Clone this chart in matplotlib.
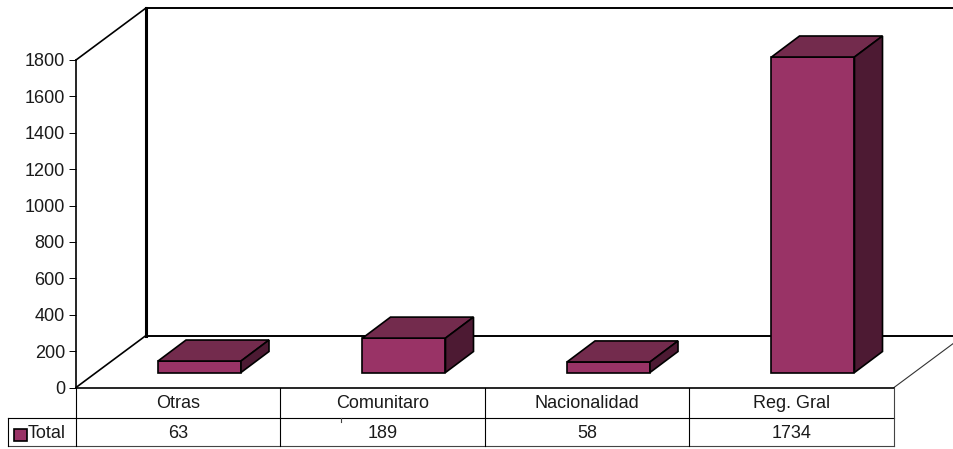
import matplotlib
matplotlib.use("Agg")
import matplotlib.pyplot as plt
from matplotlib.patches import Polygon

plt.rcParams["font.family"] = ["Liberation Sans", "DejaVu Sans"]

categories = ["Otras", "Comunitaro", "Nacionalidad", "Reg. Gral"]
values = [63, 189, 58, 1734]
series_name = "Total"
y_ticks = [0, 200, 400, 600, 800, 1000, 1200, 1400, 1600, 1800]

W, H = 954, 449
X0, Y0, Y1800 = 76, 387.5, 60
X_END = 894
WALL_DX, WALL_DY = 70, 52
BAR_DX, BAR_DY = 28, 21
BAR_LIFT = 15
BAR_W = 83
ROW1, ROW2 = 418, 446
LEGEND_LEFT = 8
FONT_SIZE = 13
FRONT, TOP, SIDE = "#993366", "#732b4d", "#4d1a33"

PER_PX = 1800 / (Y0 - Y1800)


def px_y(pixel):
    # pixel row to value units
    return (Y0 - pixel) * PER_PX


def add_bar(ax, left, value):
    right = left + BAR_W
    base = px_y(Y0 - BAR_LIFT)
    top = base + value
    dx, dy = BAR_DX, BAR_DY * PER_PX
    faces = [
        ([(left, base), (right, base), (right, top), (left, top)], FRONT),
        ([(left, top), (right, top), (right + dx, top + dy), (left + dx, top + dy)], TOP),
        ([(right, base), (right + dx, base + dy), (right + dx, top + dy), (right, top)], SIDE),
    ]
    for pts, color in faces:
        ax.add_patch(Polygon(pts, closed=True, facecolor=color, edgecolor="black",
                             linewidth=1.2, joinstyle="miter", zorder=3))


fig = plt.figure(figsize=(W / 100, H / 100), dpi=100)

ax = fig.add_axes([0, 0, 1, 1])
ax.set_xlim(0, W)
ax.set_ylim(px_y(H), px_y(0))
ax.axis("off")

# walls and floor
back_x = X0 + WALL_DX
floor_back = px_y(Y0 - WALL_DY)
wall_top = px_y(Y1800 - WALL_DY)
ax.plot([X0, back_x], [px_y(Y1800), wall_top], color="black", lw=1.2)
ax.plot([X0, back_x], [0, floor_back], color="black", lw=1.2)
ax.plot([back_x, back_x], [floor_back, wall_top], color="black", lw=2.2)
ax.plot([back_x, W], [wall_top, wall_top], color="black", lw=1.4)
ax.plot([back_x, W], [floor_back, floor_back], color="black", lw=1.4)
ax.plot([X_END, X_END + WALL_DX], [0, floor_back], color="#333333", lw=0.8)

cell_w = (X_END - X0) / len(categories)
for i, val in enumerate(values):
    add_bar(ax, X0 + 82 + i * cell_w, val)

# data table
ax.plot([X0, X_END], [0, 0], color="black", lw=1.2)
ax.plot([LEGEND_LEFT, X_END], [px_y(ROW1), px_y(ROW1)], color="black", lw=0.8)
ax.plot([LEGEND_LEFT, X_END], [px_y(ROW2), px_y(ROW2)], color="#444444", lw=0.8)
ax.plot([LEGEND_LEFT, LEGEND_LEFT], [px_y(ROW1), px_y(ROW2)], color="black", lw=0.8)
for i in range(len(categories) + 1):
    ax.plot([X0 + i * cell_w] * 2, [0, px_y(ROW2)],
            color="#444444" if i == len(categories) else "black", lw=0.8)
for i, (cat, val) in enumerate(zip(categories, values)):
    cx = X0 + (i + 0.5) * cell_w
    ax.text(cx, px_y(403.5), cat, ha="center", va="center", fontsize=FONT_SIZE, color="#1a1a1a")
    ax.text(cx, px_y(433), str(val), ha="center", va="center", fontsize=FONT_SIZE, color="#1a1a1a")
ax.plot([341, 341], [px_y(418), px_y(422)], color="#444444", lw=0.8)

# legend cell
ax.add_patch(Polygon([(14, px_y(429)), (27, px_y(429)), (27, px_y(441)), (14, px_y(441))],
                     closed=True, facecolor=FRONT, edgecolor="black", linewidth=1.2))
ax.text(28, px_y(433.5), series_name, ha="left", va="center", fontsize=FONT_SIZE, color="#1a1a1a")

# value axis
ax_y = fig.add_axes([X0 / W, (H - Y0) / H, 0.001, (Y0 - Y1800) / H])
ax_y.patch.set_alpha(0)
ax_y.set_ylim(0, 1800)
ax_y.set_xticks([])
ax_y.set_yticks(y_ticks)
ax_y.tick_params(axis="y", length=5, width=0.7, pad=3, labelsize=FONT_SIZE, labelcolor="#1a1a1a")
for side in ["top", "right", "bottom"]:
    ax_y.spines[side].set_visible(False)
ax_y.spines["left"].set_linewidth(1.2)

fig.savefig("out.png", dpi=100)
